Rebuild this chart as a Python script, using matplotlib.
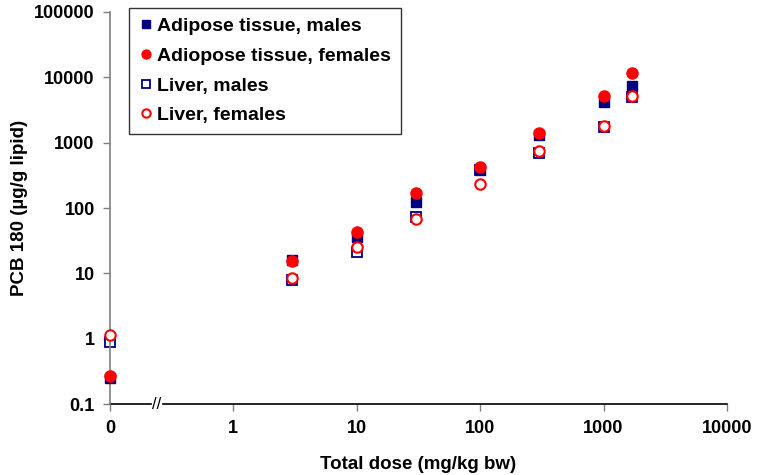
import matplotlib
matplotlib.use("Agg")
import matplotlib.pyplot as plt
from matplotlib.lines import Line2D

plt.rcParams["font.family"] = ["Liberation Sans", "DejaVu Sans"]
plt.rcParams["font.weight"] = "bold"

# --- Data ---
dose = [0, 3, 10, 30, 100, 300, 1000, 1700]
adipose_males = [0.25, 16, 36, 125, 385, 1300, 4150, 7400]
adipose_females = [0.27, 15.5, 43, 170, 430, 1400, 5100, 11500]
liver_males = [0.88, 7.8, 21.5, 72, 385, 700, 1750, 5000]
liver_females = [1.15, 8.5, 25.5, 67, 235, 740, 1780, 5150]

tick_values = [0, 1, 10, 100, 1000, 10000]
tick_labels = ["0", "1", "10", "100", "1000", "10000"]
ytick_values = [0.1, 1, 10, 100, 1000, 10000, 100000]
ytick_labels = ["0.1", "1", "10", "100", "1000", "10000", "100000"]

NAVY = "#000080"
RED = "#ff0000"
AXIS_GREY = "#7f7f7f"

# zero dose sits on the y axis, one decade left of 1 (broken axis)
ZERO_POS = 0.1


def xpos(values):
    return [ZERO_POS if v == 0 else v for v in values]


fig = plt.figure(figsize=(7.58, 4.75), dpi=100)
ax = fig.add_axes([0.145, 0.149, 0.814, 0.826])
ax.set_xscale("log")
ax.set_yscale("log")
ax.set_xlim(ZERO_POS, 10000)
ax.set_ylim(0.1, 100000)

x = xpos(dose)
ms = 7.5
# liver males drawn underneath, as in the original
ax.plot(x, liver_males, "s", mfc="white", mec=NAVY, mew=1.3, ms=ms - 0.5,
        label="Liver, males", clip_on=False, zorder=2)
ax.plot(x, adipose_males, "s", color=NAVY, ms=ms, mec=NAVY,
        label="Adipose tissue, males", clip_on=False, zorder=3)
ax.plot(x, adipose_females, "o", color=RED, ms=ms + 0.5, mec=RED,
        label="Adiopose tissue, females", clip_on=False, zorder=4)
ax.plot(x, liver_females, "o", mfc="white", mec=RED, mew=1.5, ms=ms,
        label="Liver, females", clip_on=False, zorder=5)

ax.set_xticks(xpos(tick_values))
ax.set_xticklabels(tick_labels)
ax.set_yticks(ytick_values)
ax.set_yticklabels(ytick_labels)
ax.minorticks_off()
ax.tick_params(axis="both", direction="out", length=5, width=1,
               color=AXIS_GREY, labelsize=13, pad=6)

for side in ["top", "right", "bottom"]:
    ax.spines[side].set_visible(False)
ax.spines["left"].set_color(AXIS_GREY)
ax.spines["left"].set_linewidth(1.2)

# broken bottom axis with "//" marker
gap_lo, gap_hi = 0.066, 0.086
ax.add_line(Line2D([0, gap_lo], [0, 0], transform=ax.transAxes,
                   color="black", lw=1.2, clip_on=False))
ax.add_line(Line2D([gap_hi, 1], [0, 0], transform=ax.transAxes,
                   color="black", lw=1.2, clip_on=False))
ax.text((gap_lo + gap_hi) / 2, 0, "//", transform=ax.transAxes,
        ha="center", va="center", fontsize=12, fontweight="normal",
        clip_on=False)

ax.set_xlabel("Total dose (mg/kg bw)", fontsize=13.5, fontweight="bold",
              labelpad=14)
ax.set_ylabel("PCB 180 (µg/g lipid)", fontsize=13.5, fontweight="bold",
              labelpad=4)

handles, labels = ax.get_legend_handles_labels()
order = [1, 2, 0, 3]
leg = ax.legend([handles[i] for i in order], [labels[i] for i in order],
                loc="upper left", bbox_to_anchor=(0.031, 1.01),
                fontsize=14, frameon=True, fancybox=False, markerscale=0.8,
                handlelength=0.7, handletextpad=0.25, borderpad=0.5,
                labelspacing=0.62, borderaxespad=0)
leg.get_frame().set_edgecolor("black")
leg.get_frame().set_linewidth(1.0)

plt.savefig("out.png", dpi=100)
